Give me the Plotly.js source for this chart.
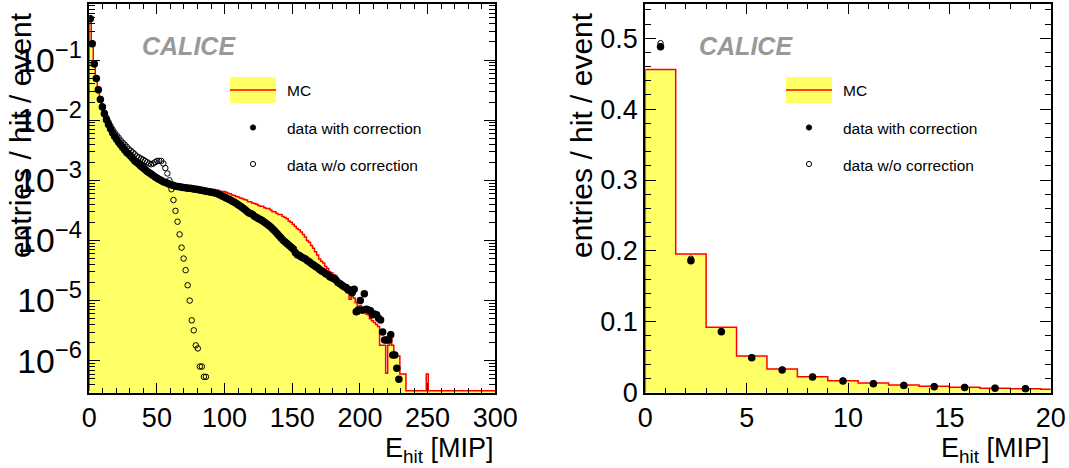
<!DOCTYPE html>
<html>
<head>
<meta charset="utf-8">
<script src="https://cdn.plot.ly/plotly-3.0.1.min.js"></script>
<style>html,body{margin:0;padding:0;background:#fff;}#chart{width:1069px;height:468px;}</style>
</head>
<body>
<div id="chart"></div>
<script>
// ---- data (entries / hit / event per 1.5 MIP bin, 200 bins from 0 to 300 MIP) ----
const binWidth = 1.5;
const nBins = 200;

const mcValues = [
0.456, 0.1956, 0.0922, 0.0518, 0.0334, 0.0226, 0.0169, 0.0137, 0.0109, 0.0090,
0.0076, 0.0063, 0.0055, 0.0049, 0.0042, 0.0037, 0.0033, 0.0030, 0.0027, 0.0025,
0.0023, 0.0021, 0.00195, 0.00182, 0.00170, 0.00159, 0.00149, 0.00140, 0.00131, 0.00124,
0.00117, 0.00111, 0.00106, 0.00101, 0.00097, 0.00094, 0.00091, 0.00088, 0.00086, 0.00084,
0.00083, 0.00082, 0.00081, 0.00080, 0.00080, 0.00079, 0.00078, 0.00078, 0.00077, 0.00078,
0.00076, 0.00076, 0.00075, 0.00076, 0.00074, 0.00074, 0.00073, 0.00073, 0.00071, 0.00071,
0.00070, 0.00070, 0.00068, 0.00068, 0.00066, 0.00065, 0.00065, 0.00063, 0.00061, 0.00060,
0.00057, 0.00056, 0.00054, 0.00053, 0.00051, 0.00050, 0.00048, 0.00047, 0.00044, 0.00044,
0.00042, 0.00041, 0.00040, 0.00038, 0.00037, 0.00037, 0.00035, 0.00034, 0.00034, 0.00032,
0.00030, 0.00030, 0.00028, 0.00027, 0.00027, 0.00025, 0.00024, 0.00023, 0.00021, 0.00020,
0.000185, 0.000172, 0.000158, 0.000150, 0.000138, 0.000125, 0.000114, 0.000100, 0.000093, 0.000082,
0.000074, 0.000065, 0.000057, 0.000049, 0.000045, 0.000042, 0.000037, 0.000034, 0.000030, 0.000029,
0.000027, 0.000026, 0.000022, 0.000021, 0.000019, 0.000017, 0.000016, 0.000014, 0.0000105, 0.0000145,
0.0000110, 0.0000092, 0.0000060, 0.0000083, 0.0000062, 0.0000075, 0.0000060, 0.0000058, 0.0000050, 0.0000046,
0.0000043, 0.0000040, 0.0000037, 0.0000018, 0.0000018, 0.0000018, 0.00000062, 0.0000018, 0.0000030, 0.0000018,
0.0000012, 0.0000012, 0.0000012, 0.0000006, 0.0000006, 0.0000006, 0, 0, 0, 0,
0, 0, 0, 0, 0, 0, 0.0000006, 0, 0, 0,
0, 0, 0, 0, 0, 0, 0, 0, 0, 0,
0, 0, 0, 0, 0, 0, 0, 0, 0, 0,
0, 0, 0, 0, 0, 0, 0, 0, 0, 0
];

const dataWithCorr = [
0.488, 0.186, 0.086, 0.0494, 0.032, 0.0221, 0.0165, 0.0128, 0.0102, 0.0085,
0.0072, 0.0062, 0.0054, 0.0048, 0.0043, 0.0039, 0.0035, 0.0032, 0.0029, 0.0027,
0.0025, 0.0023, 0.0021, 0.00197, 0.00184, 0.00172, 0.00161, 0.00151, 0.00142, 0.00134,
0.00127, 0.00120, 0.00114, 0.00108, 0.00103, 0.00099, 0.00095, 0.00092, 0.00089, 0.00086,
0.00084, 0.00082, 0.00080, 0.00079, 0.00078, 0.00077, 0.00076, 0.00075, 0.00074, 0.00074,
0.00073, 0.00072, 0.00071, 0.00070, 0.00069, 0.00068, 0.00067, 0.00066, 0.00065, 0.00064,
0.00063, 0.00062, 0.00061, 0.00059, 0.00057, 0.00055, 0.00053, 0.00051, 0.00049, 0.00047,
0.00045, 0.00043, 0.00041, 0.00039, 0.00037, 0.00035, 0.00033, 0.00031, 0.00029, 0.00028,
0.00027, 0.00025, 0.00024, 0.00023, 0.00022, 0.00021, 0.000198, 0.000188, 0.000178, 0.000166,
0.000154, 0.000142, 0.000130, 0.000120, 0.000110, 0.000101, 0.000094, 0.000088, 0.000082, 0.000077,
0.000072, 0.000063, 0.000058, 0.000056, 0.000053, 0.000051, 0.000049, 0.000046, 0.000044, 0.000041,
0.000039, 0.000037, 0.000035, 0.000033, 0.000031, 0.000030, 0.000028, 0.000027, 0.000025, 0.000024,
0.000023, 0.000022, 0.000020, 0.000019, 0.000018, 0.000017, 0.0000165, 0.000015, 0.000015, 0.0000135,
0.0000155, 0.0000065, 0.0000070, 0.0000100, 0.0000070, 0.0000130, 0.0000072, 0.0000070, 0.0000068, 0.0000058,
0.0000060, 0.0000058, 0.0000051, 0.00000475, 0.0000030, 0.0000022, 0.0000022, 0.0000022, 0.0000027, 0.00000124,
0.00000124, 0.00000075, 0.00000049
];

const dataWithoutCorr = [
0.493, 0.189, 0.087, 0.0497, 0.0323, 0.0225, 0.0170, 0.0134, 0.0110, 0.0093,
0.0080, 0.0070, 0.0062, 0.0056, 0.0051, 0.0046, 0.0042, 0.0039, 0.0036, 0.0033,
0.0031, 0.0029, 0.0027, 0.0025, 0.0024, 0.0023, 0.0022, 0.0021, 0.0020, 0.0019,
0.00185, 0.0019, 0.0020, 0.0021, 0.0021, 0.0021, 0.0019, 0.0016, 0.0013, 0.00100,
0.00071, 0.00047, 0.00031, 0.000205, 0.000126, 0.000076, 0.000050, 0.000032, 0.000018, 0.000010,
0.0000047, 0.0000032, 0.0000018, 0.0000016, 0.0000008, 0.0000008, 0.00000054, 0.00000054
];

const legendLabels = ["MC", "data with correction", "data w/o correction"];
const xTitle = "E<sub>hit</sub> [MIP]";
const yTitle = "entries / hit / event";
const tag = "CALICE";

// ---- derived arrays for the library ----
const W = 1069, H = 468;
const px = v => v / W;
const py = v => 1 - v / H;

const logMin = -6.532, logMax = -0.06;
const floorVal = Math.pow(10, -6.50);

const edges = [];
for (let i = 0; i <= nBins; i++) edges.push(i * binWidth);
function centers(n) { const c = []; for (let i = 0; i < n; i++) c.push((i + 0.5) * binWidth); return c; }

const stepX = [0].concat(edges);
const stepYlog = [floorVal].concat(mcValues.map(v => v > 0 ? v : floorVal)).concat([mcValues[nBins - 1] > 0 ? mcValues[nBins - 1] : floorVal]);
const stepYlin = [0].concat(mcValues).concat([mcValues[nBins - 1]]);

const yellow = '#ffff66';
const red = '#ff0000';
const font = 'Liberation Sans, Arial, Helvetica, sans-serif';

const traces = [];
function addPanel(xa, ya, stepY) {
  traces.push({
    x: stepX, y: stepY, xaxis: xa, yaxis: ya, type: 'scatter', mode: 'lines',
    line: { shape: 'hv', color: red, width: 1.5 }, fill: 'tozeroy', fillcolor: yellow,
    hoverinfo: 'skip', name: legendLabels[0]
  });
  traces.push({
    x: centers(dataWithoutCorr.length), y: dataWithoutCorr, xaxis: xa, yaxis: ya, type: 'scatter', mode: 'markers',
    marker: { symbol: 'circle-open', size: 5.5, color: '#000', line: { width: 1, color: '#000' } },
    name: legendLabels[2]
  });
  traces.push({
    x: centers(dataWithCorr.length), y: dataWithCorr, xaxis: xa, yaxis: ya, type: 'scatter', mode: 'markers',
    marker: { symbol: 'circle', size: 7.5, color: '#000' },
    name: legendLabels[1]
  });
}
addPanel('x', 'y', stepYlog);
addPanel('x2', 'y2', stepYlin);

const yDom = [(H - 392.7) / H, (H - 3.5) / H];
const common = {
  showline: true, linewidth: 2, linecolor: '#000', mirror: 'allticks',
  ticks: 'inside', tickwidth: 1, tickcolor: '#000', showgrid: false, zeroline: false,
  tickfont: { family: font, size: 27, color: '#000' }
};

const layout = {
  width: W, height: H, margin: { l: 0, r: 0, t: 0, b: 0 },
  paper_bgcolor: '#fff', plot_bgcolor: '#fff', showlegend: false,
  xaxis: Object.assign({}, common, {
    domain: [px(89.2), px(495.3)], range: [0, 300], tick0: 0, dtick: 50, ticklen: 10, anchor: 'y',
    minor: { dtick: 10, ticks: 'inside', ticklen: 5, tickcolor: '#000', tickwidth: 1 }
  }),
  yaxis: Object.assign({}, common, {
    domain: yDom, type: 'log', range: [logMin, logMax], dtick: 1, exponentformat: 'power', ticklen: 11, anchor: 'x',
    tickfont: { family: font, size: 27, color: '#000' },
    minor: { ticks: 'inside', ticklen: 6, tickcolor: '#000', tickwidth: 1 }
  }),
  xaxis2: Object.assign({}, common, {
    domain: [px(645.3), px(1050.8)], range: [0, 20], tick0: 0, dtick: 5, ticklen: 10, anchor: 'y2',
    minor: { dtick: 1, ticks: 'inside', ticklen: 5, tickcolor: '#000', tickwidth: 1 }
  }),
  yaxis2: Object.assign({}, common, {
    domain: yDom, range: [0, 0.549], tick0: 0, dtick: 0.1, ticklen: 11, anchor: 'x2',
    minor: { dtick: 0.02, ticks: 'inside', ticklen: 6, tickcolor: '#000', tickwidth: 1 }
  }),
  shapes: [],
  annotations: []
};

function addDecor(off) {
  layout.shapes.push({ type: 'rect', xref: 'paper', yref: 'paper', x0: px(off), x1: px(off + 46), y0: py(103), y1: py(77), fillcolor: yellow, line: { width: 0 } });
  layout.shapes.push({ type: 'line', xref: 'paper', yref: 'paper', x0: px(off), x1: px(off + 46), y0: py(90), y1: py(90), line: { color: red, width: 1.5 } });
  layout.shapes.push({ type: 'circle', xref: 'paper', yref: 'paper', xsizemode: 'pixel', ysizemode: 'pixel',
    xanchor: px(off + 23), yanchor: py(127.5), x0: -2.6, x1: 2.6, y0: -2.6, y1: 2.6, fillcolor: '#000', line: { color: '#000', width: 1 } });
  layout.shapes.push({ type: 'circle', xref: 'paper', yref: 'paper', xsizemode: 'pixel', ysizemode: 'pixel',
    xanchor: px(off + 23), yanchor: py(164), x0: -2.6, x1: 2.6, y0: -2.6, y1: 2.6, fillcolor: 'rgba(0,0,0,0)', line: { color: '#000', width: 1 } });
  const ys = [91, 128, 165];
  for (let i = 0; i < 3; i++) {
    layout.annotations.push({ xref: 'paper', yref: 'paper', x: px(off + 55), y: py(ys[i]), xanchor: 'left', yanchor: 'middle',
      text: legendLabels[i], showarrow: false, font: { family: font, size: 15.5, color: '#000' } });
  }
}
addDecor(230);
addDecor(786);

[[140, 46], [697, 46]].forEach(p => layout.annotations.push({ xref: 'paper', yref: 'paper', x: px(p[0]), y: py(p[1]),
  xanchor: 'left', yanchor: 'middle', text: '<b><i>' + tag + '</i></b>', showarrow: false,
  font: { family: font, size: 25, color: '#999999' } }));

[495.3, 1050.8].forEach(xr => layout.annotations.push({ xref: 'paper', yref: 'paper', x: px(xr), y: py(431), xanchor: 'right', yanchor: 'top',
  text: xTitle, showarrow: false, font: { family: font, size: 27, color: '#000' } }));
[20, 581].forEach(xc => layout.annotations.push({ xref: 'paper', yref: 'paper', x: px(xc), y: py(10), xanchor: 'center', yanchor: 'top',
  textangle: -90, text: yTitle, showarrow: false, font: { family: font, size: 30, color: '#000' } }));

Plotly.newPlot('chart', traces, layout, { staticPlot: true, displayModeBar: false });
</script>
</body>
</html>
